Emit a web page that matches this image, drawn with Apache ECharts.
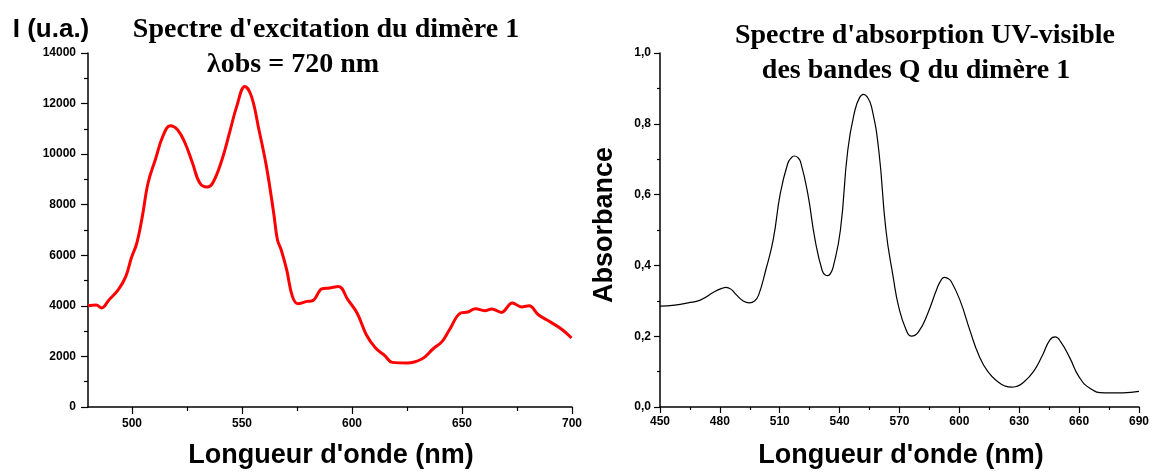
<!DOCTYPE html>
<html>
<head>
<meta charset="utf-8">
<script src="https://cdn.jsdelivr.net/npm/echarts@6/dist/echarts.min.js"></script>
<style>
html,body{margin:0;padding:0;background:#fff;}
#c{width:1152px;height:472px;}
</style>
</head>
<body>
<div id="c"></div>
<script>
// ---- Excitation spectrum (left) ----
const excNm = [480, 483.7, 486.2, 489.6, 493.8, 497.2, 499.7, 502.2, 504.7, 507.3, 510.6, 514, 517.4, 520.7, 524.1, 527.5, 530.8, 534.2, 536.7, 540.9, 544.3, 547.6, 551.3, 554.3, 557.7, 561.1, 564.4, 566.1, 567.8, 570.3, 572.9, 575.4, 579.5, 582.1, 586.3, 589.7, 593.9, 598.1, 602.3, 606.5, 610.7, 614.9, 618.3, 625, 631.7, 636.8, 641, 644.3, 649.4, 652.7, 656.1, 660.3, 663.6, 667.9, 672.9, 677.1, 680.5, 684.7, 690.5, 695.6, 699.8];
const excI = [4006, 4030, 3915, 4244, 4640, 5166, 5890, 6486, 7538, 8859, 9781, 10702, 11125, 10967, 10441, 9650, 8859, 8701, 8859, 9781, 10837, 11889, 12680, 12284, 10967, 9516, 7673, 6617, 6221, 5430, 4374, 4085, 4177, 4204, 4667, 4706, 4770, 4244, 3718, 2859, 2333, 2029, 1765, 1740, 1898, 2294, 2596, 3057, 3718, 3757, 3888, 3809, 3876, 3741, 4113, 3955, 4006, 3650, 3346, 3057, 2729];
const excXLabels = [500, 550, 600, 650, 700];
const excXMinor = [525, 575, 625, 675];

// ---- UV-visible absorption spectrum (right) ----
const absNm = [450, 457.4, 464, 470.2, 477.5, 481, 483, 485.5, 488.4, 491.5, 494.8, 497.5, 499.4, 503, 506.7, 510.3, 514, 515.8, 517.3, 519, 520.4, 524, 527.7, 531.3, 533, 534, 535.3, 536.8, 540.4, 544.1, 547.7, 550, 551.9, 553.8, 556, 559.6, 563.2, 566.9, 569.6, 573.3, 576, 579.6, 584.2, 588.8, 591, 592.4, 594, 596, 600.6, 605.2, 609.7, 614.3, 619.8, 623, 626.2, 628.5, 631.6, 637.1, 641.7, 645.3, 648, 650.8, 655.4, 659.9, 665.4, 672.7, 681.8, 690];
const absA = [0.285, 0.288, 0.294, 0.302, 0.326, 0.335, 0.338, 0.333, 0.316, 0.300, 0.294, 0.300, 0.316, 0.387, 0.472, 0.604, 0.688, 0.704, 0.709, 0.705, 0.693, 0.604, 0.472, 0.385, 0.372, 0.371, 0.376, 0.396, 0.5, 0.726, 0.839, 0.874, 0.883, 0.876, 0.848, 0.726, 0.5, 0.365, 0.283, 0.218, 0.2, 0.213, 0.265, 0.335, 0.360, 0.366, 0.364, 0.354, 0.297, 0.218, 0.147, 0.1, 0.069, 0.059, 0.056, 0.058, 0.067, 0.1, 0.147, 0.189, 0.198, 0.184, 0.138, 0.086, 0.053, 0.04, 0.04, 0.044];

const SANS = "'Liberation Sans', Arial, sans-serif";
const SERIF = "'Liberation Serif', 'Times New Roman', serif";
const axisCol = '#000';
const tickLbl = {color: '#000', fontFamily: SANS, fontWeight: 'bold', fontSize: 12};

const chart = echarts.init(document.getElementById('c'));
chart.setOption({
  animation: false,
  backgroundColor: '#fff',
  grid: [
    {left: 88, top: 53, width: 484, height: 354},
    {left: 660, top: 53, width: 480, height: 354}
  ],
  xAxis: [
    {gridIndex: 0, type: 'value', min: 480, max: 700, position: 'bottom',
     axisLine: {show: true, onZero: false, lineStyle: {color: axisCol, width: 1.5}},
     axisTick: {show: true, length: 7, customValues: excXLabels, lineStyle: {color: axisCol, width: 1.2}},
     axisLabel: Object.assign({margin: 11, customValues: excXLabels, formatter: v => String(v)}, tickLbl),
     splitLine: {show: false}},
    {gridIndex: 0, type: 'value', min: 480, max: 700, position: 'bottom',
     axisLine: {show: false, onZero: false},
     axisTick: {show: true, length: 4, customValues: excXMinor, lineStyle: {color: axisCol, width: 1.2}},
     axisLabel: {show: false},
     splitLine: {show: false}},
    {gridIndex: 1, type: 'value', min: 450, max: 690, interval: 30, position: 'bottom',
     axisLine: {show: true, onZero: false, lineStyle: {color: axisCol, width: 1.5}},
     axisTick: {show: true, length: 6, lineStyle: {color: axisCol, width: 1.2}},
     minorTick: {show: true, splitNumber: 2, length: 3, lineStyle: {color: axisCol, width: 1.2}},
     axisLabel: Object.assign({margin: 9, formatter: v => String(v)}, tickLbl),
     splitLine: {show: false}}
  ],
  yAxis: [
    {gridIndex: 0, type: 'value', min: 0, max: 14000, interval: 2000,
     axisLine: {show: true, onZero: false, lineStyle: {color: axisCol, width: 1.5}},
     axisTick: {show: true, length: 7, lineStyle: {color: axisCol, width: 1.2}},
     minorTick: {show: true, splitNumber: 2, length: 4, lineStyle: {color: axisCol, width: 1.2}},
     axisLabel: Object.assign({margin: 12, formatter: v => String(v)}, tickLbl),
     splitLine: {show: false}},
    {gridIndex: 1, type: 'value', min: 0, max: 1, interval: 0.2,
     axisLine: {show: true, onZero: false, lineStyle: {color: axisCol, width: 1.5}},
     axisTick: {show: true, length: 6, lineStyle: {color: axisCol, width: 1.2}},
     minorTick: {show: true, splitNumber: 2, length: 3, lineStyle: {color: axisCol, width: 1.2}},
     axisLabel: Object.assign({margin: 9, formatter: v => v.toFixed(1).replace('.', ',')}, tickLbl),
     splitLine: {show: false}}
  ],
  series: [
    {type: 'line', xAxisIndex: 0, yAxisIndex: 0, showSymbol: false, smooth: 0.4,
     lineStyle: {color: '#ff0000', width: 3},
     data: excNm.map((x, i) => [x, excI[i]])},
    {type: 'line', xAxisIndex: 2, yAxisIndex: 1, showSymbol: false, smooth: 0.5,
     lineStyle: {color: '#000', width: 1.2},
     data: absNm.map((x, i) => [x, absA[i]])}
  ],
  graphic: [
    {type: 'text', x: 51, y: 30, style: {text: 'I (u.a.)', fontFamily: SANS, fontWeight: 'bold', fontSize: 26, fill: '#000', align: 'center', verticalAlign: 'middle'}},
    {type: 'text', x: 326, y: 30, style: {text: "Spectre d'excitation du dimère 1", fontFamily: SERIF, fontWeight: 'bold', fontSize: 28, fill: '#000', align: 'center', verticalAlign: 'middle'}},
    {type: 'text', x: 293, y: 65, style: {text: 'λobs = 720 nm', fontFamily: SERIF, fontWeight: 'bold', fontSize: 28, fill: '#000', align: 'center', verticalAlign: 'middle'}},
    {type: 'text', x: 331, y: 456, style: {text: "Longueur d'onde (nm)", fontFamily: SANS, fontWeight: 'bold', fontSize: 27, fill: '#000', align: 'center', verticalAlign: 'middle'}},
    {type: 'text', x: 925, y: 36, style: {text: "Spectre d'absorption UV-visible", fontFamily: SERIF, fontWeight: 'bold', fontSize: 28, fill: '#000', align: 'center', verticalAlign: 'middle'}},
    {type: 'text', x: 916, y: 71, style: {text: 'des bandes Q du dimère 1', fontFamily: SERIF, fontWeight: 'bold', fontSize: 28, fill: '#000', align: 'center', verticalAlign: 'middle'}},
    {type: 'text', x: 901, y: 456, style: {text: "Longueur d'onde (nm)", fontFamily: SANS, fontWeight: 'bold', fontSize: 27, fill: '#000', align: 'center', verticalAlign: 'middle'}},
    {type: 'text', x: 605, y: 225, rotation: Math.PI / 2, style: {text: 'Absorbance', fontFamily: SANS, fontWeight: 'bold', fontSize: 27, fill: '#000', align: 'center', verticalAlign: 'middle'}}
  ]
});
</script>
</body>
</html>
